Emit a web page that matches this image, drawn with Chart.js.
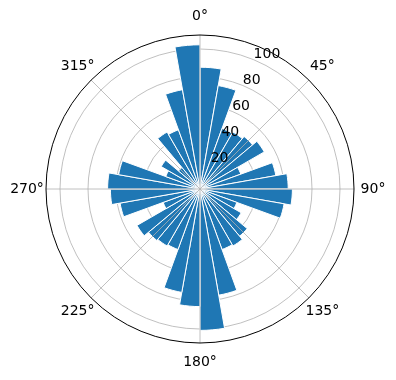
<html>
<head>
  <style type="text/css">
    body { margin: 0; background: #fff; }
    #wrap { width: 396px; height: 380px; }
  </style>
</head>
<body>
  <div id="wrap"><canvas id="chart"></canvas></div>
  <script src="https://cdn.jsdelivr.net/npm/chart.js@4/dist/chart.umd.min.js"></script>
  <script>
    // 36 bins of 10 degrees, clockwise from north
    const binLabels = ['0°','10°','20°','30°','40°','50°','60°','70°','80°',
                       '90°','100°','110°','120°','130°','140°','150°','160°','170°',
                       '180°','190°','200°','210°','220°','230°','240°','250°','260°',
                       '270°','280°','290°','300°','310°','320°','330°','340°','350°'];
    const counts = [87, 75, 46, 47, 49, 53, 31, 55, 63,
                    66, 61, 28, 34, 44, 47, 46, 77, 101,
                    84, 75, 46, 47, 48, 52, 28, 58, 64,
                    66, 59, 26, 32, 20, 47, 45, 72, 103];
    const radialTicks = [20, 40, 60, 80, 100];
    const radialMax = 110;
    const thetaTicks = [0, 45, 90, 135, 180, 225, 270, 315];
    const thetaLabels = ['0°', '45°', '90°', '135°', '180°', '225°', '270°', '315°'];

    const font = '14px "DejaVu Sans"';
    const gridColor = '#b0b0b0';

    function polar(scale, deg, dist) {
      const a = scale.getIndexAngle(0) + deg * Math.PI / 180 - Math.PI / 2;
      return { x: scale.xCenter + Math.cos(a) * dist, y: scale.yCenter + Math.sin(a) * dist };
    }

    const polarDecor = {
      id: 'polarDecor',
      afterDatasetsDraw(chart) {
        const scale = chart.scales.r;
        const ctx = chart.ctx;
        ctx.save();
        ctx.strokeStyle = gridColor;
        ctx.lineWidth = 0.8;
        for (const deg of thetaTicks) {
          const p = polar(scale, deg, scale.drawingArea);
          ctx.beginPath();
          ctx.moveTo(scale.xCenter, scale.yCenter);
          ctx.lineTo(p.x, p.y);
          ctx.stroke();
        }
        ctx.restore();
      },
      afterDraw(chart) {
        const scale = chart.scales.r;
        const ctx = chart.ctx;
        ctx.save();
        // outer spine
        ctx.strokeStyle = '#000';
        ctx.lineWidth = 1;
        ctx.beginPath();
        ctx.arc(scale.xCenter, scale.yCenter, scale.getDistanceFromCenterForValue(radialMax), 0, Math.PI * 2);
        ctx.stroke();

        ctx.fillStyle = '#000';
        ctx.font = font;
        // radial tick labels at 22.5 deg like matplotlib
        ctx.textAlign = 'left';
        ctx.textBaseline = 'bottom';
        for (const v of radialTicks) {
          const p = polar(scale, 22.5, scale.getDistanceFromCenterForValue(v));
          ctx.fillText(String(v), p.x, p.y + 2);
        }
        // angle labels
        ctx.textAlign = 'center';
        ctx.textBaseline = 'middle';
        thetaTicks.forEach((deg, i) => {
          const p = polar(scale, deg, scale.drawingArea + 19);
          ctx.fillText(thetaLabels[i], p.x, p.y);
        });
        ctx.restore();
      }
    };

    new Chart(document.getElementById('chart'), {
      type: 'polarArea',
      data: {
        labels: binLabels,
        datasets: [{
          data: counts,
          backgroundColor: '#1f77b4',
          borderColor: '#ffffff',
          borderWidth: 1
        }]
      },
      options: {
        responsive: true,
        maintainAspectRatio: false,
        animation: false,
        layout: { padding: { top: 35, bottom: 37, left: 46, right: 42 } },
        plugins: {
          legend: { display: false },
          tooltip: { enabled: false }
        },
        scales: {
          r: {
            min: 0,
            max: radialMax,
            startAngle: 0,
            z: 1,
            ticks: { display: false, stepSize: 20 },
            grid: {
              color: (c) => (c.tick && c.tick.value === radialMax) ? 'rgba(0,0,0,0)' : gridColor,
              lineWidth: 0.8
            },
            angleLines: { display: false },
            pointLabels: { display: false }
          }
        }
      },
      plugins: [polarDecor]
    });
  </script>
</body>
</html>
